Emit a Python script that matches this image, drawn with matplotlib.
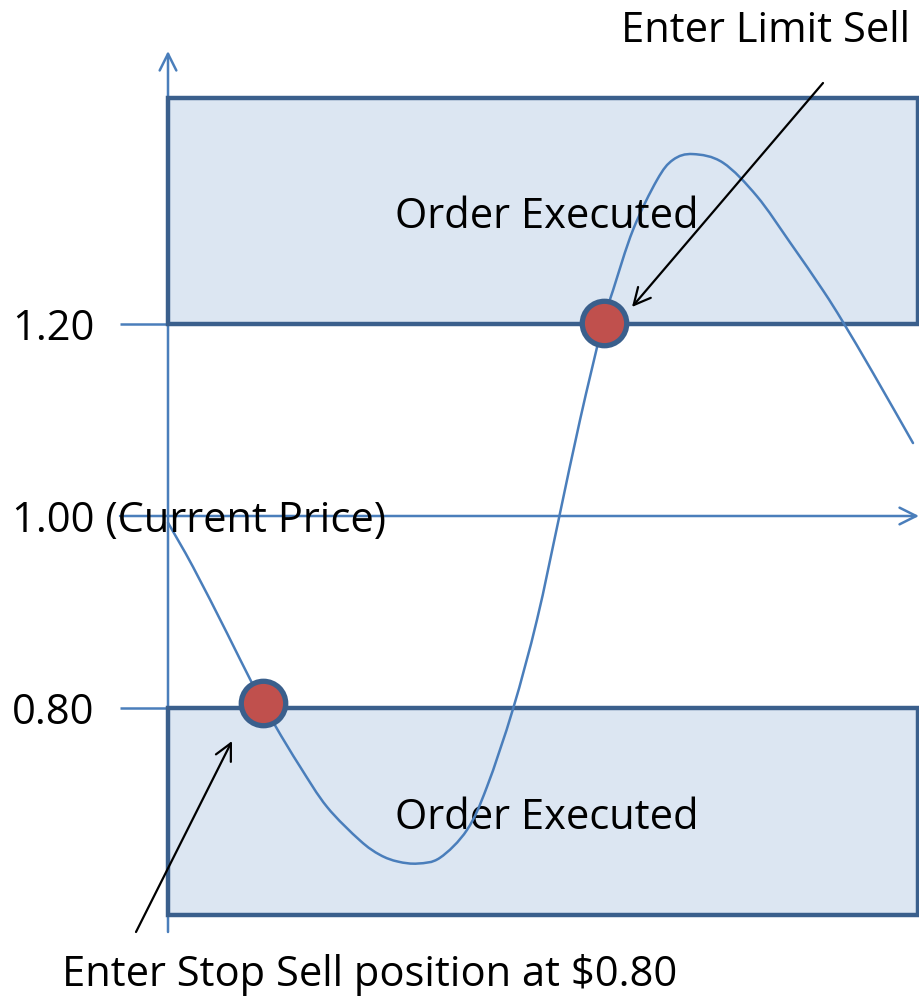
import matplotlib
matplotlib.use("Agg")
import matplotlib.pyplot as plt
from matplotlib.patches import Rectangle, PathPatch
from matplotlib.path import Path

plt.rcParams['font.family'] = ['Open Sans', 'DejaVu Sans']

# price levels
current_price = 1.00
limit_price = 1.20
stop_price = 0.80
level_labels = ["1.20", "1.00 (Current Price)", "0.80"]
level_values = [1.20, 1.00, 0.80]

# price path (time in arbitrary units)
time = [168, 193, 227, 252, 275, 300, 327, 360, 380, 398, 418, 440, 467, 487,
        513, 537, 559, 580, 603, 613, 633, 657, 673, 693, 723, 757, 790, 823,
        843, 873, 913]
price = [0.993, 0.947, 0.878, 0.826, 0.782, 0.739, 0.697, 0.662, 0.647, 0.640,
         0.638, 0.644, 0.673, 0.718, 0.799, 0.892, 0.998, 1.100, 1.201, 1.235,
         1.298, 1.350, 1.371, 1.377, 1.368, 1.333, 1.285, 1.235, 1.202, 1.149,
         1.076]

# where the orders trigger
trigger_time = [263, 604]
trigger_price = [0.805, 1.201]

box_label = "Order Executed"
limit_label = "Enter Limit Sell"
stop_label = "Enter Stop Sell position at $0.80"

axis_blue = "#4A7EBB"
box_edge = "#3A5F8C"
box_fill = "#DCE6F2"
marker_red = "#C0504D"

W, H = 920, 997
fig = plt.figure(figsize=(W / 100, H / 100), dpi=100)
ax = fig.add_axes([0, 0, 1, 1])


def py(row):
    # pixel row -> price, used only for layout
    return 1.0 + (516 - row) / 960.0


ax.set_xlim(0, W)
ax.set_ylim(py(H), py(0))
ax.axis('off')

# axes with arrows
ax.annotate('', xy=(168, py(51)), xytext=(168, py(932)),
            arrowprops=dict(arrowstyle='->', color=axis_blue, lw=1.8,
                            mutation_scale=30, shrinkA=0, shrinkB=0), zorder=1)
ax.annotate('', xy=(919, current_price), xytext=(120, current_price),
            arrowprops=dict(arrowstyle='->', color=axis_blue, lw=1.8,
                            mutation_scale=30, shrinkA=0, shrinkB=0), zorder=1)
ax.hlines([limit_price, stop_price], 120, 168, color=axis_blue, lw=1.8, zorder=1)

# execution zones
ax.add_patch(Rectangle((168, limit_price), 750, py(98) - limit_price,
                       facecolor=box_fill, edgecolor=box_edge, lw=3.2, zorder=2))
ax.add_patch(Rectangle((168, py(915)), 750, stop_price - py(915),
                       facecolor=box_fill, edgecolor=box_edge, lw=3.2, zorder=2))

# price line as a smooth bezier through the read points
pts = list(zip(time, price))
verts = [pts[0]]
codes = [Path.MOVETO]
for i in range(len(pts) - 1):
    p0 = pts[i - 1] if i > 0 else pts[i]
    p1, p2 = pts[i], pts[i + 1]
    p3 = pts[i + 2] if i + 2 < len(pts) else p2
    c1 = (p1[0] + (p2[0] - p0[0]) / 6, p1[1] + (p2[1] - p0[1]) / 6)
    c2 = (p2[0] - (p3[0] - p1[0]) / 6, p2[1] - (p3[1] - p1[1]) / 6)
    verts += [c1, c2, p2]
    codes += [Path.CURVE4] * 3
ax.add_patch(PathPatch(Path(verts, codes), facecolor='none', edgecolor=axis_blue,
                       lw=1.8, capstyle='round', zorder=3))

ax.plot(trigger_time, trigger_price, 'o', ms=32, mfc=marker_red, mec=box_edge,
        mew=3.8, zorder=4)

fs = 30
ax.text(395, py(228), box_label, fontsize=fs, ha='left', va='baseline', zorder=3)
ax.text(395, py(829), box_label, fontsize=fs, ha='left', va='baseline', zorder=2.5)
ax.text(621, py(42), limit_label, fontsize=fs, ha='left', va='baseline', zorder=5)
ax.text(62, py(986), stop_label, fontsize=fs, ha='left', va='baseline', zorder=5)

for lab, val in zip(level_labels, level_values):
    ax.text(12, val - 16 / 960.0, lab, fontsize=fs, ha='left', va='baseline', zorder=5)

# pointers
ax.annotate('', xy=(632, py(307)), xytext=(823, py(83)),
            arrowprops=dict(arrowstyle='->', color='black', lw=1.6,
                            mutation_scale=30, shrinkA=0, shrinkB=0), zorder=6)
ax.annotate('', xy=(232, py(741)), xytext=(136, py(932)),
            arrowprops=dict(arrowstyle='->', color='black', lw=1.6,
                            mutation_scale=30, shrinkA=0, shrinkB=0), zorder=6)

fig.savefig("out.png", dpi=100)
